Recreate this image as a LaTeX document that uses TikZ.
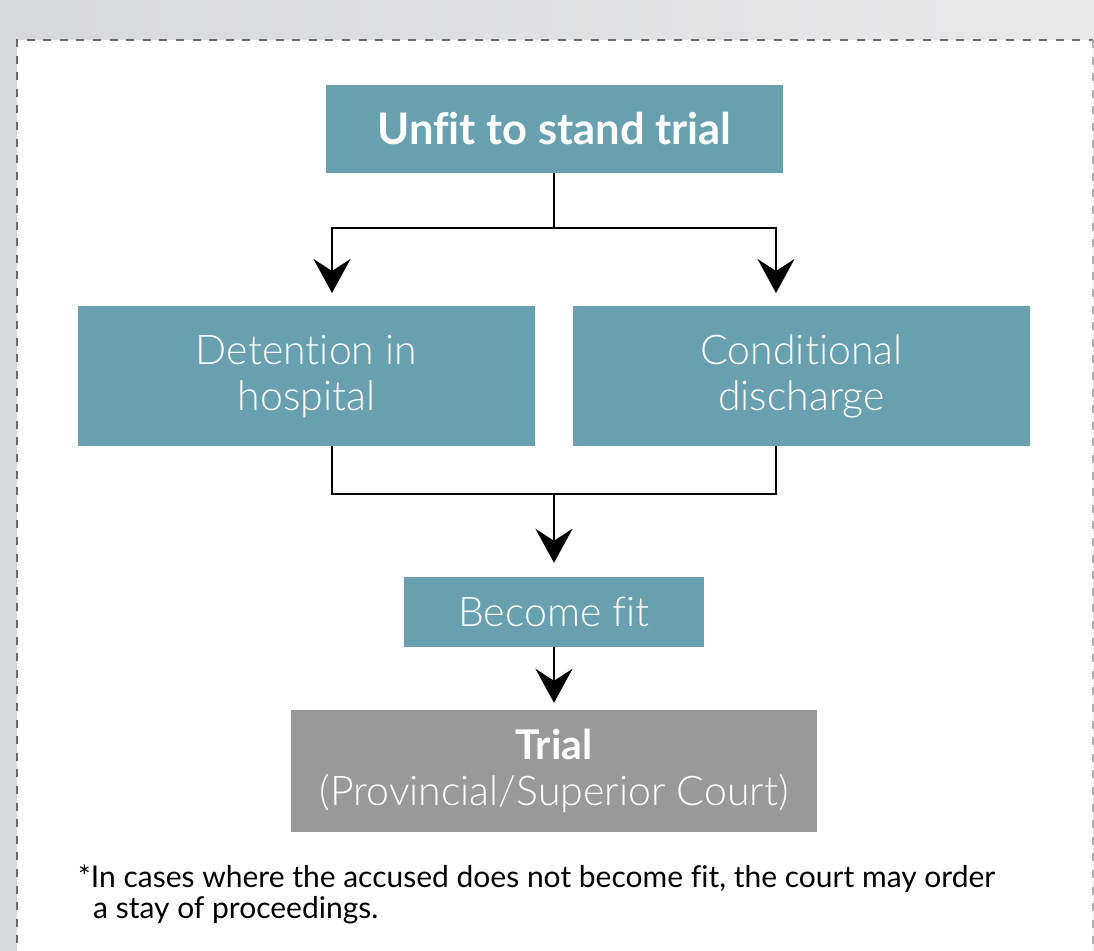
\documentclass[tikz,border=0pt]{standalone}
\usepackage{fontspec}
\setmainfont{Lato}[Ligatures={NoCommon}]
\newfontfamily\lightfont{Lato Light}[Ligatures={NoCommon}]
\usetikzlibrary{arrows.meta}
\definecolor{boxteal}{HTML}{68A0AF}
\definecolor{boxgray}{HTML}{999999}
\definecolor{bgdark}{HTML}{D7D8DA}
\definecolor{bglight}{HTML}{E9E9EA}
\definecolor{dashdark}{HTML}{6B6B6D}
\definecolor{dashlight}{HTML}{B0B0B2}
\begin{document}
\begin{tikzpicture}[x=1pt,y=-1pt,
  flowbox/.style={fill=boxteal, text=white, inner sep=0pt, align=center},
  titletext/.style={font=\fontsize{43.5}{48}\selectfont\bfseries},
  bodytext/.style={font=\fontsize{41}{46}\selectfont\lightfont},
  notetext/.style={font=\fontsize{30}{34}\selectfont},
  conn/.style={draw=black, line width=2.5pt},
  arr/.style={conn, -{Stealth[length=34pt,width=37pt,inset=12pt]}},
  border/.style={line width=2pt, dash pattern=on 8pt off 8.6pt}]
\useasboundingbox (0,0) rectangle (1094,950);
\shade[left color=bgdark, right color=bglight] (0,0) rectangle (1094,950);
\fill[white] (17,40) rectangle (1093,960);
\draw[border, draw=dashdark] (17,960) -- (17,40) -- (1093,40);
\draw[border, draw=dashlight, line width=1.6pt] (1093,40) -- (1093,960);

\node[flowbox, titletext, minimum width=457pt, minimum height=88pt] (top) at (554.5,129) {Unfit to stand trial};
\node[flowbox, bodytext, minimum width=457pt, minimum height=140pt] (det) at (306.5,376) {Detention in\\hospital};
\node[flowbox, bodytext, minimum width=457pt, minimum height=140pt] (cd) at (801.5,376) {Conditional\\discharge};
\node[flowbox, bodytext, minimum width=300pt, minimum height=70pt] (fit) at (554,612) {Become fit};
\node[flowbox, fill=boxgray, minimum width=526pt, minimum height=122pt, font=\fontsize{41}{46}\selectfont] (trial) at (554,771)
  {{\bfseries Trial}\\{\lightfont (Provincial/Superior Court)}};

\node[notetext, anchor=base west, inner sep=0pt] (fnA) at (78,887) {*In cases where the accused does not become fit, the court may order};
\node[notetext, anchor=base west, inner sep=0pt] (fnB) at (93,918) {a stay of proceedings.};

\coordinate (split) at (554,228);
\coordinate (detin) at (332,293);
\coordinate (cdin) at (776,293);
\coordinate (detout) at (332,446);
\coordinate (cdout) at (776,446);
\coordinate (merge) at (554,494);

\draw[conn] (top.south -| split) -- (split);
\draw[arr] (split) -| (detin);
\draw[arr] (split) -| (cdin);
\draw[conn] (detout) |- (merge) -| (cdout);
\draw[arr, shorten >=14pt] (merge) -- (fit.north);
\draw[arr, shorten >=7pt] (fit.south) -- (trial.north);
\end{tikzpicture}
\end{document}
